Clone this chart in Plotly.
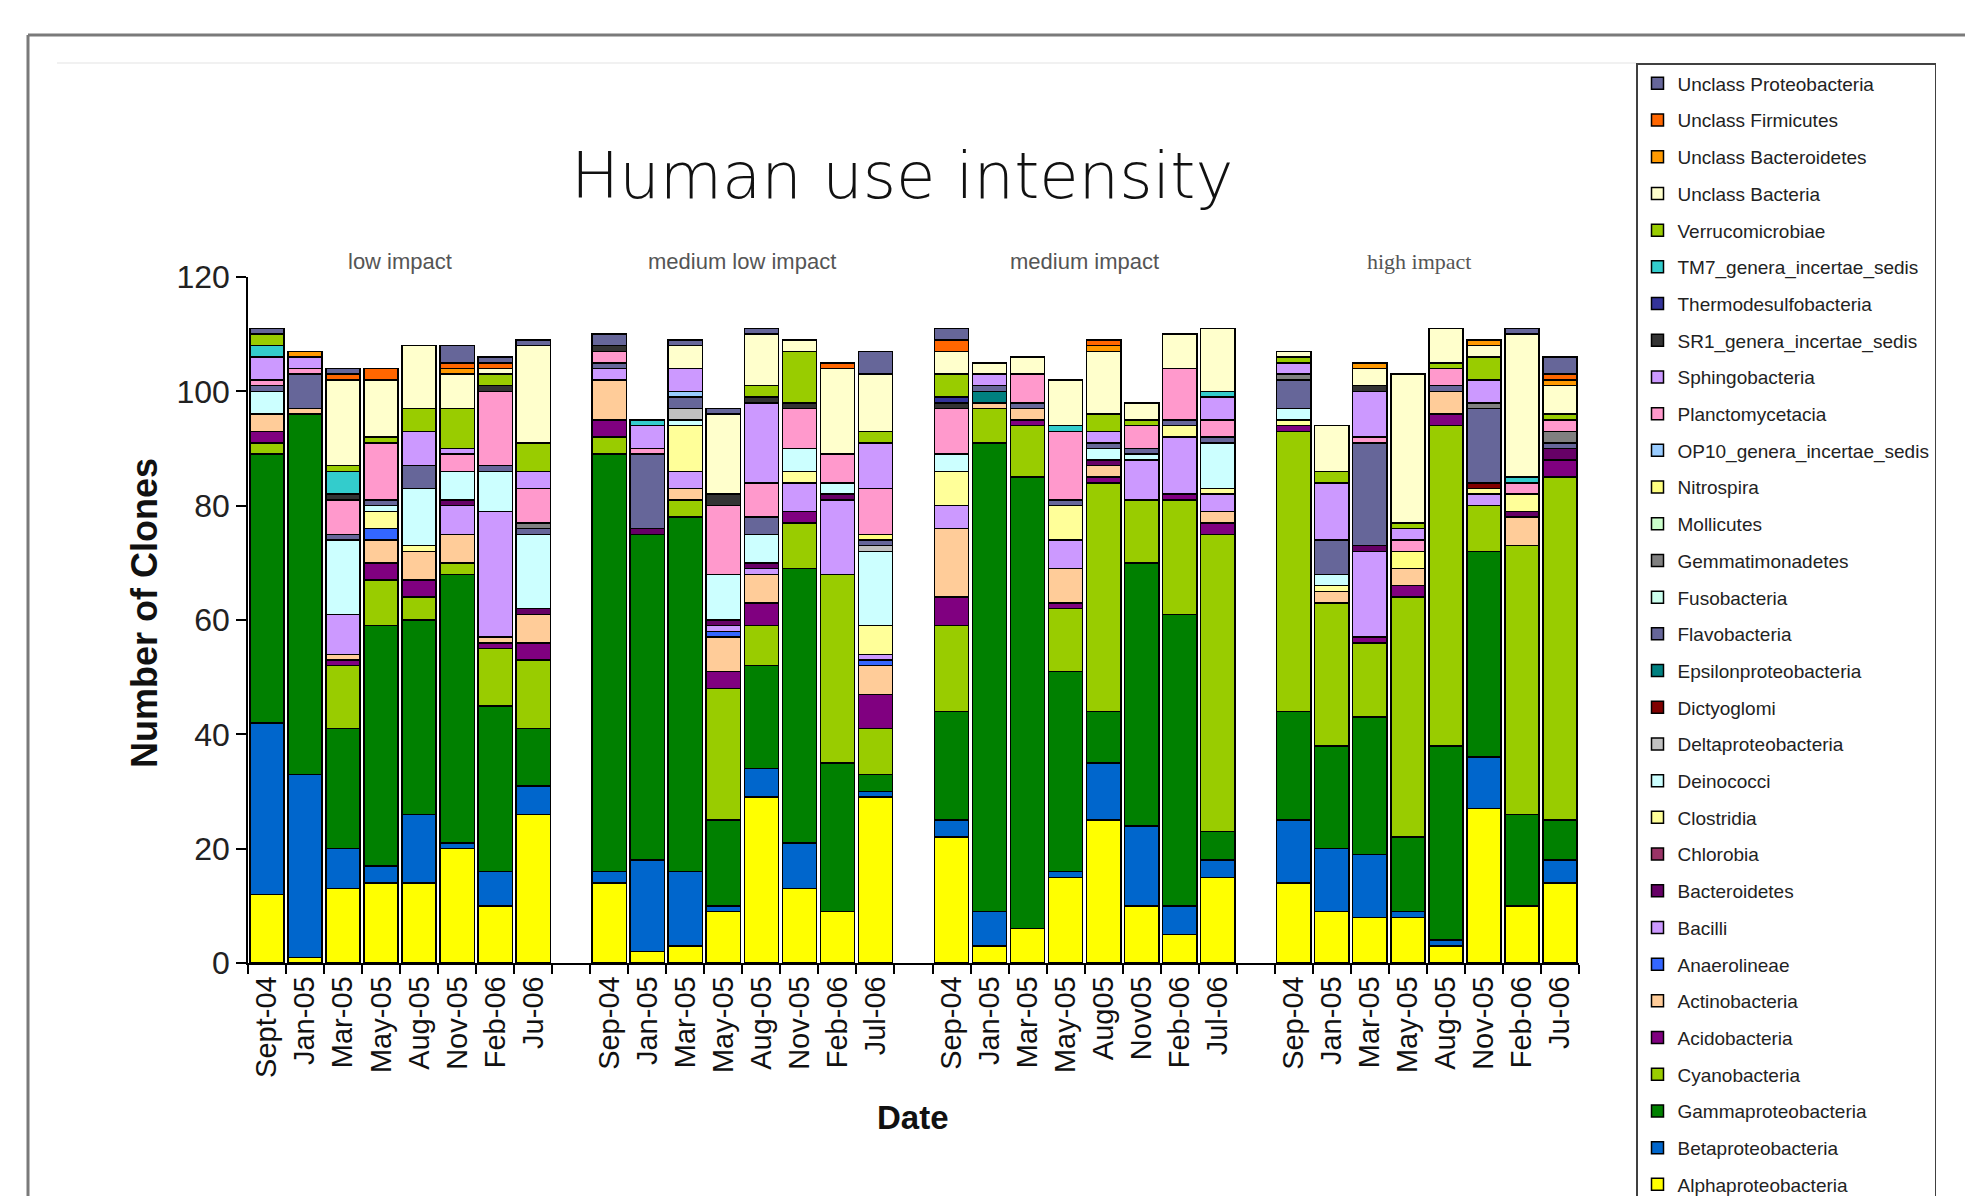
import plotly.graph_objects as go

# ---------------- data ----------------
group_labels = ["low impact", "medium low impact", "medium impact", "high impact"]
tick_labels = [
    "Sept-04", "Jan-05", "Mar-05", "May-05", "Aug-05", "Nov-05", "Feb-06", "Ju-06",
    "Sep-04", "Jan-05", "Mar-05", "May-05", "Aug-05", "Nov-05", "Feb-06", "Jul-06",
    "Sep-04", "Jan-05", "Mar-05", "May-05", "Aug05", "Nov05", "Feb-06", "Jul-06",
    "Sep-04", "Jan-05", "Mar-05", "May-05", "Aug-05", "Nov-05", "Feb-06", "Ju-06",
]

alphaproteobacteria = [12, 1, 13, 14, 14, 20, 10, 26, 14, 2, 3, 9, 29, 13, 9, 29, 22, 3, 6, 15, 25, 10, 5, 15, 14, 9, 8, 8, 3, 27, 10, 14]
betaproteobacteria = [30, 32, 7, 3, 12, 1, 6, 5, 2, 16, 13, 1, 5, 8, 0, 1, 3, 6, 0, 1, 10, 14, 5, 3, 11, 11, 11, 1, 1, 9, 0, 4]
gammaproteobacteria = [47, 63, 21, 42, 34, 47, 29, 10, 73, 57, 62, 15, 18, 48, 26, 3, 19, 82, 79, 35, 9, 46, 51, 5, 19, 18, 24, 13, 34, 36, 16, 7]
cyanobacteria = [2, 0, 11, 8, 4, 2, 10, 12, 3, 0, 3, 23, 7, 8, 33, 8, 15, 6, 9, 11, 40, 11, 20, 52, 49, 25, 13, 42, 56, 8, 47, 60]
acidobacteria = [2, 0, 1, 3, 3, 0, 1, 3, 3, 0, 0, 3, 4, 2, 0, 6, 5, 0, 1, 1, 1, 0, 1, 2, 1, 0, 1, 2, 2, 0, 0, 3]
actinobacteria = [3, 1, 1, 4, 5, 5, 1, 5, 7, 0, 2, 6, 5, 0, 0, 5, 12, 1, 2, 6, 2, 0, 0, 2, 0, 2, 0, 3, 4, 0, 5, 0]
anaerolineae = [0, 0, 0, 2, 0, 0, 0, 0, 0, 0, 0, 1, 0, 0, 0, 1, 0, 0, 0, 0, 0, 0, 0, 0, 0, 0, 0, 0, 0, 0, 0, 0]
bacilli = [0, 0, 7, 0, 0, 5, 22, 0, 2, 0, 3, 1, 1, 5, 13, 1, 4, 0, 0, 5, 0, 7, 10, 3, 0, 0, 15, 0, 0, 2, 0, 0]
bacteroidetes = [0, 0, 0, 0, 0, 1, 0, 1, 0, 1, 0, 1, 1, 0, 1, 0, 0, 0, 0, 0, 1, 0, 0, 0, 0, 0, 1, 0, 0, 0, 1, 2]
chlorobia = [0] * 32
clostridia = [0, 0, 0, 3, 1, 0, 0, 0, 0, 0, 8, 0, 0, 2, 0, 5, 6, 0, 0, 6, 0, 0, 2, 1, 1, 1, 0, 0, 0, 1, 3, 0]
deinococci = [4, 0, 13, 1, 10, 5, 7, 13, 0, 0, 1, 8, 5, 4, 2, 13, 3, 0, 0, 0, 2, 1, 0, 8, 2, 2, 0, 0, 0, 0, 0, 0]
deltaproteobacteria = [0, 0, 0, 0, 0, 0, 0, 0, 0, 0, 2, 0, 0, 0, 0, 1, 0, 0, 0, 0, 0, 0, 0, 0, 0, 0, 0, 0, 0, 0, 0, 0]
dictyoglomi = [0, 0, 0, 0, 0, 0, 0, 0, 0, 0, 0, 0, 0, 0, 0, 0, 0, 0, 0, 0, 0, 0, 0, 0, 0, 0, 0, 0, 0, 1, 0, 0]
epsilonproteobacteria = [0, 0, 0, 0, 0, 0, 0, 0, 0, 0, 0, 0, 0, 0, 0, 0, 0, 2, 0, 0, 0, 0, 0, 0, 0, 0, 0, 0, 0, 0, 0, 0]
flavobacteria = [1, 6, 1, 1, 4, 0, 1, 1, 1, 13, 2, 0, 3, 0, 0, 1, 0, 1, 1, 1, 1, 1, 1, 1, 5, 6, 18, 0, 1, 13, 0, 1]
fusobacteria = [0] * 32
gemmatimonadetes = [0, 0, 0, 0, 0, 0, 0, 1, 0, 0, 0, 0, 0, 0, 0, 0, 0, 0, 0, 0, 0, 0, 0, 0, 1, 0, 0, 0, 0, 1, 0, 2]
mollicutes = [0] * 32
nitrospira = [0, 0, 0, 0, 0, 0, 0, 0, 0, 0, 0, 0, 0, 0, 0, 1, 0, 0, 0, 0, 0, 0, 0, 0, 0, 0, 0, 3, 0, 0, 0, 0]
op10 = [0, 0, 0, 0, 0, 0, 0, 0, 0, 0, 1, 0, 0, 0, 0, 0, 0, 0, 0, 0, 0, 0, 0, 0, 0, 0, 0, 0, 0, 0, 0, 0]
planctomycetacia = [1, 1, 6, 10, 0, 3, 13, 6, 2, 1, 0, 12, 6, 7, 5, 8, 8, 0, 5, 12, 0, 4, 9, 3, 0, 0, 1, 2, 3, 0, 2, 2]
sphingobacteria = [4, 2, 0, 0, 6, 1, 0, 3, 0, 4, 4, 0, 14, 0, 0, 8, 0, 2, 0, 0, 2, 0, 0, 4, 2, 10, 8, 2, 0, 4, 0, 0]
sr1 = [0, 0, 1, 0, 0, 0, 1, 0, 1, 0, 0, 2, 1, 1, 0, 0, 1, 0, 0, 0, 0, 0, 0, 0, 0, 0, 1, 0, 0, 0, 0, 0]
thermodesulfobacteria = [0, 0, 0, 0, 0, 0, 0, 0, 0, 0, 0, 0, 0, 0, 0, 0, 1, 0, 0, 0, 0, 0, 0, 0, 0, 0, 0, 0, 0, 0, 0, 0]
tm7 = [2, 0, 4, 0, 0, 0, 0, 0, 0, 1, 0, 0, 0, 0, 0, 0, 0, 0, 0, 1, 0, 0, 0, 1, 0, 0, 0, 0, 0, 0, 1, 0]
verrucomicrobiae = [2, 0, 1, 1, 4, 7, 2, 5, 0, 0, 0, 0, 2, 9, 0, 2, 4, 0, 0, 0, 3, 1, 0, 0, 1, 2, 0, 1, 1, 4, 0, 1]
unclass_bacteria = [0, 0, 15, 10, 11, 6, 1, 17, 0, 0, 4, 14, 9, 2, 15, 10, 4, 2, 3, 8, 11, 3, 6, 11, 1, 8, 3, 26, 6, 2, 25, 5]
unclass_bacteroidetes = [0, 1, 0, 0, 0, 1, 0, 0, 0, 0, 0, 0, 0, 0, 0, 0, 0, 0, 0, 0, 1, 0, 0, 0, 0, 0, 1, 0, 0, 1, 0, 1]
unclass_firmicutes = [0, 0, 1, 2, 0, 1, 1, 0, 0, 0, 0, 0, 0, 0, 1, 0, 2, 0, 0, 0, 1, 0, 0, 0, 0, 0, 0, 0, 0, 0, 0, 1]
unclass_proteobacteria = [1, 0, 1, 0, 0, 3, 1, 1, 2, 0, 1, 1, 1, 0, 0, 4, 2, 0, 0, 0, 0, 0, 0, 0, 0, 0, 0, 0, 0, 0, 1, 3]

# stacking order: bottom to top
series = [
    ("Alphaproteobacteria", alphaproteobacteria, "#FFFF00"),
    ("Betaproteobacteria", betaproteobacteria, "#0066CC"),
    ("Gammaproteobacteria", gammaproteobacteria, "#008000"),
    ("Cyanobacteria", cyanobacteria, "#99CC00"),
    ("Acidobacteria", acidobacteria, "#800080"),
    ("Actinobacteria", actinobacteria, "#FFCC99"),
    ("Anaerolineae", anaerolineae, "#3366FF"),
    ("Bacilli", bacilli, "#CC99FF"),
    ("Bacteroidetes", bacteroidetes, "#660066"),
    ("Chlorobia", chlorobia, "#993366"),
    ("Clostridia", clostridia, "#FFFF99"),
    ("Deinococci", deinococci, "#CCFFFF"),
    ("Deltaproteobacteria", deltaproteobacteria, "#C0C0C0"),
    ("Dictyoglomi", dictyoglomi, "#800000"),
    ("Epsilonproteobacteria", epsilonproteobacteria, "#008080"),
    ("Flavobacteria", flavobacteria, "#666699"),
    ("Fusobacteria", fusobacteria, "#CCFFEE"),
    ("Gemmatimonadetes", gemmatimonadetes, "#808080"),
    ("Mollicutes", mollicutes, "#CCFFCC"),
    ("Nitrospira", nitrospira, "#FFFF80"),
    ("OP10_genera_incertae_sedis", op10, "#99CCFF"),
    ("Planctomycetacia", planctomycetacia, "#FF99CC"),
    ("Sphingobacteria", sphingobacteria, "#CC99FF"),
    ("SR1_genera_incertae_sedis", sr1, "#333333"),
    ("Thermodesulfobacteria", thermodesulfobacteria, "#333399"),
    ("TM7_genera_incertae_sedis", tm7, "#33CCCC"),
    ("Verrucomicrobiae", verrucomicrobiae, "#99CC00"),
    ("Unclass Bacteria", unclass_bacteria, "#FFFFCC"),
    ("Unclass Bacteroidetes", unclass_bacteroidetes, "#FF9900"),
    ("Unclass Firmicutes", unclass_firmicutes, "#FF6600"),
    ("Unclass Proteobacteria", unclass_proteobacteria, "#666699"),
]

# x positions: 8 bars per group, one empty slot between groups
x_pos = [g * 9 + i for g in range(4) for i in range(8)]
group_centers = [3.5, 12.5, 21.5, 30.3]

fig = go.Figure()
for k, (name, vals, color) in enumerate(series):
    fig.add_trace(go.Bar(
        x=x_pos,
        y=[v if v else None for v in vals],
        name=name,
        legendgroup=name,
        legendrank=1000 - k,
        marker=dict(color=color, line=dict(color="#000000", width=1.5)),
    ))

# ---------------- layout ----------------
OFF = 8  # page body margin offset
W, H = 1973 - OFF, 1196 - OFF
ML, MT = 248 - OFF, 277 - OFF
MR = W - (1579 - OFF)
MB = H - (963 - OFF)
pw, ph = W - ML - MR, H - MT - MB


def px_x(px):
    return (px - OFF - ML) / pw


def px_y(py):
    return (H - MB - (py - OFF)) / ph


annotations = [
    dict(text="Human use intensity", x=px_x(902), y=px_y(176), xref="paper", yref="paper",
         showarrow=False, xanchor="center", yanchor="middle",
         font=dict(family="DejaVu Sans ExtraLight, DejaVu Sans Light, DejaVu Sans", size=64, color="#111111")),
    dict(text="Number of Clones", x=px_x(144), y=px_y(613), xref="paper", yref="paper",
         showarrow=False, textangle=-90, xanchor="center", yanchor="middle",
         font=dict(family="Liberation Sans, Arial", size=36, color="#111111", weight="bold")),
    dict(text="Date", x=px_x(913), y=px_y(1117), xref="paper", yref="paper",
         showarrow=False, xanchor="center", yanchor="middle",
         font=dict(family="Liberation Sans, Arial", size=33, color="#111111", weight="bold")),
]
lbl_y = px_y(262)
for i, (lbl, cx) in enumerate(zip(group_labels, group_centers)):
    fam = "Liberation Serif, Times New Roman" if i == 3 else "Liberation Sans Narrow, Liberation Sans"
    annotations.append(dict(text=lbl, x=cx, y=lbl_y, xref="x", yref="paper", showarrow=False,
                            xanchor="center", yanchor="middle",
                            font=dict(family=fam, size=22, color="#555555")))

shapes = [
    # outer frame (top and left)
    dict(type="line", xref="paper", yref="paper", x0=px_x(28), x1=px_x(1990), y0=px_y(35), y1=px_y(35),
         line=dict(color="#7a7a7a", width=3)),
    dict(type="line", xref="paper", yref="paper", x0=px_x(28), x1=px_x(28), y0=px_y(35), y1=px_y(1210),
         line=dict(color="#7a7a7a", width=3)),
    # faint inner line
    dict(type="line", xref="paper", yref="paper", x0=px_x(57), x1=px_x(1636), y0=px_y(63), y1=px_y(63),
         line=dict(color="#ececec", width=1.5)),
]

fig.update_layout(
    width=W, height=H, autosize=False,
    margin=dict(l=ML, r=MR, t=MT, b=MB, pad=0, autoexpand=False),
    paper_bgcolor="white", plot_bgcolor="white",
    barmode="stack", bargap=0.1,
    font=dict(family="Liberation Sans, Arial", color="#111111"),
    showlegend=True,
    legend=dict(
        x=px_x(1636), y=px_y(63), xanchor="left", yanchor="top",
        traceorder="grouped", tracegroupgap=9,
        bgcolor="white", bordercolor="#404040", borderwidth=1.5,
        font=dict(family="Liberation Sans Narrow, Liberation Sans", size=19, color="#222222"),
        maxheight=1160,
        itemclick=False,
    ),
    annotations=annotations,
    shapes=shapes,
)

fig.update_xaxes(
    range=[-0.5, 34.5],
    tickmode="array", tickvals=x_pos, ticktext=tick_labels, tickangle=-90,
    ticks="", showline=True, linecolor="#000000", linewidth=1.5,
    tickfont=dict(family="Liberation Sans, Arial", size=29, color="#111111"),
    showgrid=False, zeroline=False,
    minor=dict(tickmode="linear", tick0=-0.5, dtick=1, ticks="outside", ticklen=9,
               tickcolor="#000000", tickwidth=1.5, showgrid=False),
)
fig.update_yaxes(
    range=[0, 120], tickmode="array", tickvals=[0, 20, 40, 60, 80, 100, 120],
    ticks="outside", ticklen=10, tickcolor="#000000", tickwidth=1.5,
    showline=True, linecolor="#000000", linewidth=1.5,
    tickfont=dict(family="Liberation Sans, Arial", size=32, color="#222222"),
    showgrid=False, zeroline=False,
)

fig.write_html("out.html")
